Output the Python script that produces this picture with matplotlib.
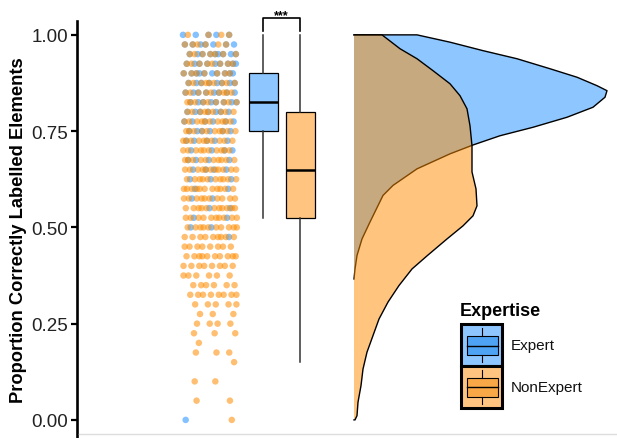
import numpy as np
import matplotlib.pyplot as plt
from matplotlib.colors import to_rgba
from matplotlib.patches import Rectangle, Circle

plt.rcParams['font.family'] = ['Liberation Sans', 'DejaVu Sans']

# proportion levels and number of participants at each level
levels = [1.000, 0.975, 0.950, 0.925, 0.900, 0.875, 0.850, 0.825, 0.800, 0.775,
          0.750, 0.725, 0.700, 0.675, 0.650, 0.625, 0.600, 0.575, 0.550, 0.525,
          0.500, 0.475, 0.450, 0.425, 0.400, 0.375, 0.350, 0.325, 0.300, 0.275,
          0.250, 0.225, 0.200, 0.175, 0.150, 0.125, 0.100, 0.075, 0.050, 0.025,
          0.000]
n_expert = [5, 7, 9, 9, 10, 8, 8, 8, 7, 6,
            6, 5, 4, 4, 4, 3, 2, 2, 2, 2,
            2, 1, 0, 0, 0, 0, 0, 0, 0, 0,
            0, 0, 0, 0, 0, 0, 0, 0, 0, 0,
            1]
n_nonexpert = [4, 6, 7, 8, 7, 9, 9, 9, 9, 10,
               10, 10, 10, 10, 11, 10, 11, 10, 11, 10,
               10, 9, 8, 10, 8, 6, 6, 8, 5, 3,
               4, 3, 1, 3, 1, 0, 2, 0, 2, 0,
               1]

groups = ['Expert', 'NonExpert']
# boxplot summaries
box_med = [0.825, 0.65]
box_q1 = [0.75, 0.525]
box_q3 = [0.90, 0.80]
box_lo = [0.525, 0.15]
box_hi = [1.00, 1.00]

# half-violin densities (y value, width)
dens_y_expert = [1.000, 0.981, 0.959, 0.938, 0.912, 0.890, 0.868, 0.855, 0.838,
                 0.812, 0.786, 0.760, 0.738, 0.714, 0.691, 0.652, 0.609, 0.583,
                 0.514, 0.470, 0.427, 0.392, 0.366]
dens_w_expert = [0.63, 0.96, 1.29, 1.63, 1.96, 2.23, 2.43, 2.53, 2.51,
                 2.39, 2.13, 1.79, 1.46, 1.19, 0.96, 0.63, 0.39, 0.29,
                 0.16, 0.08, 0.03, 0.01, 0.0]
dens_y_non = [1.000, 0.964, 0.938, 0.907, 0.873, 0.842, 0.808, 0.764, 0.712,
              0.644, 0.600, 0.556, 0.530, 0.504, 0.470, 0.426, 0.392, 0.349,
              0.306, 0.262, 0.219, 0.176, 0.132, 0.089, 0.046, 0.011, 0.000]
dens_w_non = [0.28, 0.46, 0.63, 0.79, 0.96, 1.06, 1.13, 1.16, 1.18,
              1.18, 1.22, 1.23, 1.19, 1.09, 0.93, 0.73, 0.58, 0.45,
              0.34, 0.25, 0.19, 0.13, 0.09, 0.07, 0.04, 0.03, 0.01]

blue = '#1E90FF'
orange = '#FF8C00'
blue_light = '#8EC7FF'
orange_light = '#FFC580'

fig = plt.figure(figsize=(6.17, 4.39), dpi=100)
ax = fig.add_axes([77 / 617, 0, 1 - 77 / 617, 417 / 439])
ax.set_xlim(0, 5.4)
ax.set_ylim(-0.047, 1.036)

# jittered points
pt_center = 1.33
pt_half = 0.27
for g, (counts, col) in enumerate([(n_expert, blue), (n_nonexpert, orange)]):
    xs, ys = [], []
    for i, (lv, n) in enumerate(zip(levels, counts)):
        for j in range(n):
            frac = ((i * 7 + j + g * 3) * 0.6180339887) % 1
            xs.append(pt_center + (2 * frac - 1) * pt_half)
            ys.append(lv)
    ax.scatter(xs, ys, s=22, color=col, alpha=0.55, edgecolors='none', zorder=2)

# boxplots
box_pos = [1.86, 2.23]
stats = []
for k in range(2):
    stats.append(dict(med=box_med[k], q1=box_q1[k], q3=box_q3[k],
                      whislo=box_lo[k], whishi=box_hi[k], fliers=[]))
bp = ax.bxp(stats, positions=box_pos, widths=0.29, patch_artist=True,
            showcaps=False, manage_ticks=False,
            medianprops=dict(color='black', lw=1.8),
            whiskerprops=dict(color='#333333', lw=1.1),
            boxprops=dict(edgecolor='black', lw=0.9))
for patch, fc in zip(bp['boxes'], [blue_light, orange_light]):
    patch.set_facecolor(fc)

# significance bracket
ax.plot([box_pos[0], box_pos[0], box_pos[1], box_pos[1]],
        [1.01, 1.044, 1.044, 1.01], color='black', lw=1.2, clip_on=False)
ax.text(sum(box_pos) / 2, 1.052, '***', ha='center', va='center', fontsize=9,
        fontweight='bold')

# half violins
base = 2.77
for dy, dw, col in [(dens_y_expert, dens_w_expert, blue),
                    (dens_y_non, dens_w_non, orange)]:
    px = [base] + [base + w for w in dw] + [base]
    py = [dy[0]] + dy + [dy[-1]]
    ax.fill(px, py, facecolor=to_rgba(col, 0.5), edgecolor='none', zorder=3)
    ax.plot(px, py, color='black', lw=1.0, zorder=3, solid_joinstyle='round')

# axes styling
for s in ['top', 'right', 'bottom']:
    ax.spines[s].set_visible(False)
ax.spines['left'].set_linewidth(1.9)
ax.set_xticks([])
ax.set_yticks([0, 0.25, 0.5, 0.75, 1.0])
ax.set_yticklabels(['0.00', '0.25', '0.50', '0.75', '1.00'])
ax.tick_params(axis='y', length=4.5, width=1.6, labelsize=13.5, colors='black',
               labelcolor='#222222', pad=2)
ax.set_ylabel('Proportion Correctly Labelled Elements', fontsize=13.2,
              fontweight='bold')
ax.yaxis.set_label_coords(-0.093, 0.5)

# overlay in pixel coords for legend
oax = fig.add_axes([0, 0, 1, 1])
oax.set_xlim(0, 617)
oax.set_ylim(439, 0)
oax.axis('off')
oax.plot([79, 617], [435, 435], color='#dddddd', lw=1)

oax.text(460, 312, 'Expertise', fontsize=13, fontweight='bold', va='center')
keys = [(325, blue_light, '#4FA3F5', 'Expert'),
        (367, orange_light, '#F9A848', 'NonExpert')]
for y0, bg, bc, lab in keys:
    oax.add_patch(Rectangle((461, y0), 41, 42, facecolor=bg, edgecolor='black',
                            lw=2.2))
    oax.add_patch(Rectangle((467, y0 + 12), 31, 19, facecolor=bc,
                            edgecolor='black', lw=0.8))
    oax.plot([467, 498], [y0 + 21.5, y0 + 21.5], color='black', lw=1.0)
    oax.plot([482, 482], [y0 + 4, y0 + 12], color='black', lw=0.8)
    oax.plot([482, 482], [y0 + 31, y0 + 38], color='black', lw=0.8)
    oax.add_patch(Circle((482, y0 + 21.5), 1.5, color=bc))
    oax.text(511, y0 + 21, lab, fontsize=11, va='center', color='#111111')

fig.savefig('out.png', dpi=100)
